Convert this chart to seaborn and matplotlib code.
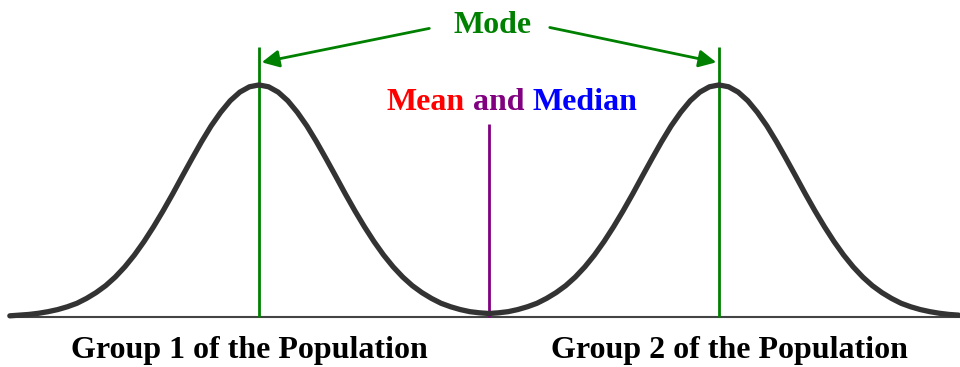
import numpy as np
import pandas as pd
import seaborn as sns
import matplotlib.pyplot as plt
from matplotlib.offsetbox import TextArea, HPacker, AnnotationBbox

x_vals = np.linspace(-6.25, 6.125, 100)
heights = [
    0.005, 0.008, 0.011, 0.016, 0.023, 0.032, 0.044, 0.059, 0.080, 0.105,
    0.135, 0.172, 0.216, 0.267, 0.325, 0.389, 0.458, 0.531, 0.607, 0.682,
    0.755, 0.823, 0.882, 0.932, 0.969, 0.992, 1.000, 0.992, 0.969, 0.932,
    0.882, 0.823, 0.755, 0.682, 0.607, 0.531, 0.458, 0.389, 0.325, 0.267,
    0.216, 0.172, 0.135, 0.105, 0.080, 0.059, 0.044, 0.032, 0.023, 0.018,
    0.015, 0.018, 0.023, 0.032, 0.044, 0.059, 0.080, 0.105, 0.135, 0.172,
    0.216, 0.267, 0.325, 0.389, 0.458, 0.531, 0.607, 0.682, 0.755, 0.823,
    0.882, 0.932, 0.969, 0.992, 1.000, 0.992, 0.969, 0.932, 0.882, 0.823,
    0.755, 0.682, 0.607, 0.531, 0.458, 0.389, 0.325, 0.267, 0.216, 0.172,
    0.135, 0.105, 0.080, 0.059, 0.044, 0.032, 0.023, 0.016, 0.011, 0.008,
]

mode_x = [-3, 3]
mean_x = 0
group_labels = ['Group 1 of the Population', 'Group 2 of the Population']
group_label_x = [-3.13, 3.13]

df = pd.DataFrame({'x': x_vals, 'y': heights})

sns.set_style('white')
plt.rcParams['font.family'] = ['Liberation Serif', 'DejaVu Serif']
plt.rcParams['font.weight'] = 'bold'

fig = plt.figure(figsize=(9.6, 3.67), dpi=100)
ax = fig.add_axes([0, 0, 1, 1])

# baseline
ax.hlines(0, -6.25, 6.143, color='#444444', lw=1.5, zorder=1)

# modes and mean/median lines
ax.vlines(mode_x, 0, 1.164, color='green', lw=2, zorder=2)
ax.vlines(mean_x, 0, 0.832, color='purple', lw=2, zorder=2)

# the bimodal curve
sns.lineplot(data=df, x='x', y='y', ax=ax, color='#333333', lw=3.8, zorder=3,
             solid_joinstyle='round', solid_capstyle='round')

# Mode label with arrows
ax.text(0.05, 1.224, 'Mode', color='green', fontsize=23, fontweight='bold',
        ha='center', va='baseline')
ax.annotate('', xy=(mode_x[0], 1.095), xytext=(-0.743, 1.246),
            arrowprops=dict(arrowstyle='-|>', color='green', lw=2, mutation_scale=26))
ax.annotate('', xy=(mode_x[1], 1.095), xytext=(0.757, 1.25),
            arrowprops=dict(arrowstyle='-|>', color='green', lw=2, mutation_scale=26))

# "Mean and Median" in three colours
props = dict(fontsize=23, fontweight='bold', family=['Liberation Serif'])
parts = [TextArea('Mean', textprops=dict(color='red', **props)),
         TextArea('and', textprops=dict(color='purple', **props)),
         TextArea('Median', textprops=dict(color='blue', **props))]
box = HPacker(children=parts, align='baseline', pad=0, sep=6)
ab = AnnotationBbox(box, (0.3, 0.923), xycoords='data', frameon=False,
                    box_alignment=(0.5, 0.5))
ax.add_artist(ab)

# group labels
for lx, lab in zip(group_label_x, group_labels):
    ax.text(lx, -0.177, lab, color='black', fontsize=23, fontweight='bold',
            ha='center', va='baseline')

ax.set_xlim(-6.378, 6.143)
ax.set_ylim(-0.2155, 1.366)
ax.axis('off')

fig.savefig('out.png', dpi=100)
